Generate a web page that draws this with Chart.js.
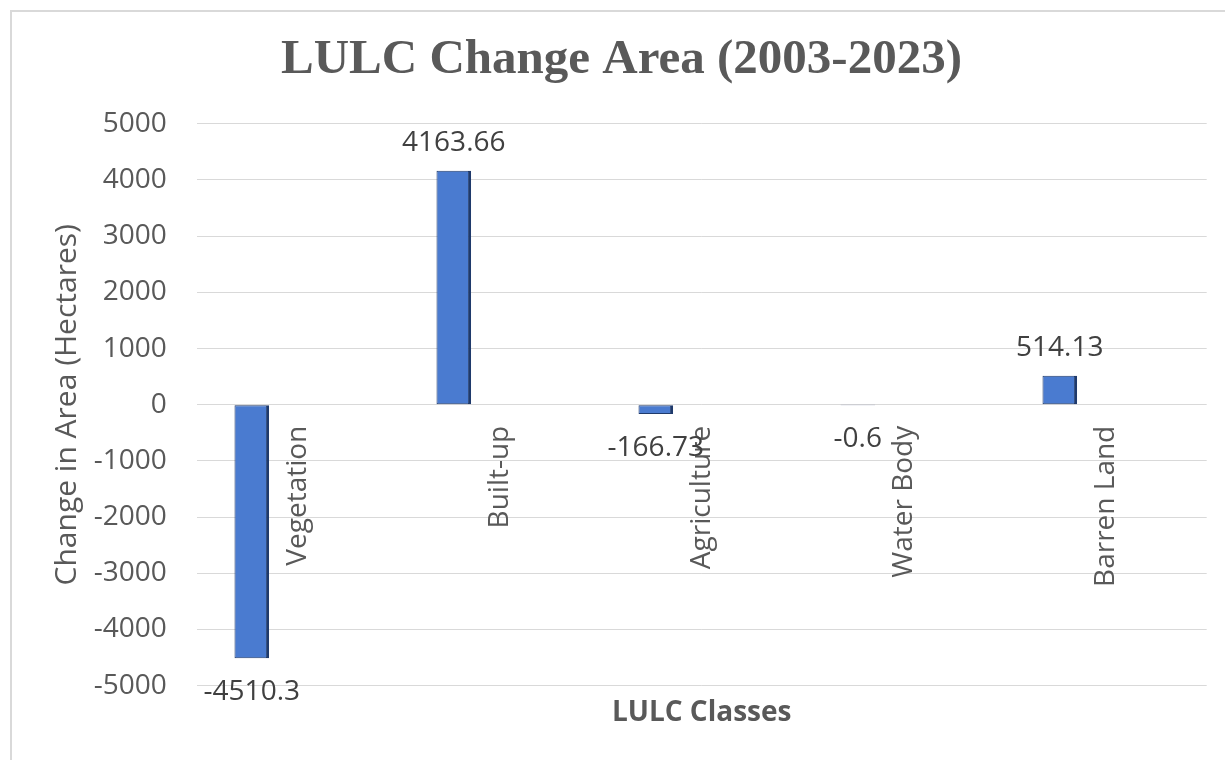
<!DOCTYPE html>
<html>
<head>
<meta charset="utf-8">
<script src="https://cdn.jsdelivr.net/npm/chart.js@4.4.1/dist/chart.umd.min.js"></script>
<style>
  html, body { margin: 0; padding: 0; background: #ffffff; overflow: hidden; }
  #wrap { position: relative; width: 1225px; height: 760px; overflow: hidden; }
  #frame { position: absolute; left: 10px; top: 10px; width: 1260px; height: 800px;
           border: 2px solid #D9D9D9; box-sizing: border-box; }
  #c { position: absolute; left: 0; top: 0; }
</style>
</head>
<body>
<div id="wrap">
  <div id="frame"></div>
  <canvas id="c" width="1225" height="760"></canvas>
</div>
<script>
// ---- data ----
const categories = ['Vegetation', 'Built-up', 'Agriculture', 'Water Body', 'Barren Land'];
const changeArea = [-4510.3, 4163.66, -166.73, -0.6, 514.13];
const emptySeries = [null, null, null, null, null];
const yMin = -5000;
const yMax = 5000;
const yStep = 1000;
const chartTitle = 'LULC Change Area (2003-2023)';
const xTitle = 'LULC Classes';
const yTitle = 'Change in Area (Hectares)';

const SANS = '"Open Sans", "Liberation Sans", sans-serif';
const SERIF = '"Liberation Serif", "Times New Roman", serif';

const valueLabels = {
  id: 'valueLabels',
  afterDatasetsDraw(chart) {
    const meta = chart.getDatasetMeta(0);
    const c = chart.ctx;
    c.save();
    c.font = '28px ' + SANS;
    c.fillStyle = '#404040';
    c.textAlign = 'center';
    c.textBaseline = 'middle';
    meta.data.forEach((bar, i) => {
      const v = changeArea[i];
      const y = v >= 0 ? bar.y - 28 : bar.y + 34;
      c.fillText(String(v), bar.x, y);
    });
    c.restore();
  }
};

new Chart(document.getElementById('c').getContext('2d'), {
  type: 'bar',
  data: {
    labels: categories,
    datasets: [
      {
        label: 'Change in Area',
        data: changeArea,
        backgroundColor: '#4A7BD0',
        borderColor: '#1F3A6B',
        borderWidth: { left: 1, right: 3, top: 1, bottom: 1 },
        borderSkipped: false,
        categoryPercentage: 0.909,
        barPercentage: 0.377
      },
      {
        label: '',
        data: emptySeries,
        categoryPercentage: 0.909,
        barPercentage: 0.377
      }
    ]
  },
  options: {
    responsive: false,
    animation: false,
    layout: { padding: { left: 36.3, right: 18.3, top: 10, bottom: 26 } },
    plugins: {
      legend: { display: false },
      tooltip: { enabled: false },
      title: {
        display: true,
        text: chartTitle,
        color: '#595959',
        font: { family: SERIF, size: 49, weight: 'bold' },
        padding: { top: 21, bottom: 34 }
      }
    },
    scales: {
      x: {
        type: 'category',
        offset: true,
        grid: { display: false, drawTicks: false },
        border: { display: false },
        ticks: { display: false },
        title: {
          display: true,
          text: xTitle,
          color: '#595959',
          font: { family: SANS, size: 28, weight: 'bold' },
          padding: { top: 10.5, bottom: 4.2 }
        }
      },
      x2: {
        type: 'category',
        labels: categories,
        offset: true,
        position: { y: 0 },
        grid: { display: false, drawTicks: false },
        border: { display: false },
        ticks: {
          autoSkip: false,
          minRotation: 90,
          maxRotation: 90,
          padding: 21,
          color: '#595959',
          font: { family: SANS, size: 28 }
        }
      },
      y: {
        min: yMin,
        max: yMax,
        afterFit(scale) { scale.width = 160.4; },
        grid: { color: '#D9D9D9', lineWidth: 1, drawTicks: false },
        border: { display: false },
        ticks: {
          stepSize: yStep,
          padding: 30,
          color: '#595959',
          font: { family: SANS, size: 28 },
          callback: (value) => String(value)
        },
        title: {
          display: true,
          text: yTitle,
          color: '#595959',
          font: { family: SANS, size: 30 },
          padding: { top: 12.7, bottom: 0 }
        }
      }
    }
  },
  plugins: [valueLabels]
});
</script>
</body>
</html>
